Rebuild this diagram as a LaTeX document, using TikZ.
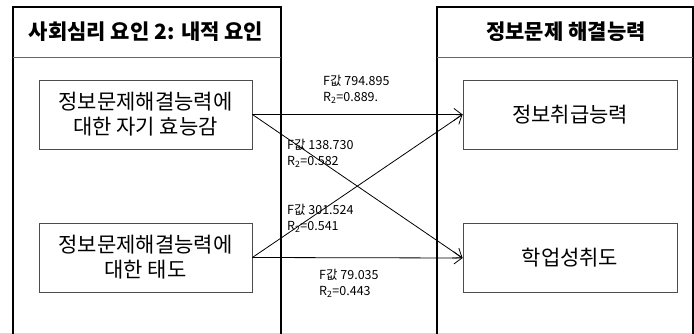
\documentclass[tikz,border=0pt]{standalone}
\usepackage{fontspec}
\setmainfont{Noto Sans CJK KR}
\usetikzlibrary{arrows.meta}

\begin{document}
\begin{tikzpicture}[
x=1pt, y=-1pt,
panel/.style={draw=black, line width=2.6pt},
divider/.style={draw=black!60, line width=0.8pt},
header/.style={inner sep=0pt, font=\fontsize{21}{25}\selectfont\bfseries},
factor/.style={rectangle, draw=black!70, line width=0.8pt, minimum width=213pt, minimum height=69pt, inner sep=0pt, align=center, font=\fontsize{21}{25}\selectfont},
outcome/.style={factor, minimum width=214pt},
stat/.style={anchor=west, align=left, inner sep=0pt, font=\fontsize{12.5}{16}\selectfont},
effect/.style={-{Straight Barb[length=8pt, width=12pt]}, line width=0.8pt},
]
\useasboundingbox (0,0) rectangle (694,334);
\draw[black!15] (0,333) -- (694,333);
\draw[panel] (13,334) |- (281,7) -- (281,334);
\draw[panel] (437,334) |- (693,7) -- (693,334);
\draw[divider] (13,57) -- (281,57);
\draw[divider] (437,57) -- (693,57);
\node[header] (hleft) at (146,32) {사회심리 요인 2: 내적 요인};
\node[header] (hright) at (566,32) {정보문제 해결능력};

\node[factor] (efficacy) at (145.5,114.5) {정보문제해결능력에\\대한 자기 효능감};
\node[factor] (attitude) at (145.5,257.5) {정보문제해결능력에\\대한 태도};
\node[outcome] (handling) at (570,114.5) {정보취급능력};
\node[outcome] (achieve) at (570,258) {학업성취도};

\draw[effect] (efficacy.east) -- (handling.west);
\draw[effect] (efficacy.east) -- (achieve.west);
\draw[effect] (attitude.east) -- (handling.west);
\draw[effect] (attitude.east) -- (achieve.west);

\node[stat] (s1) at (323,89) {F값 794.895\\R\textsubscript{2}=0.889.};
\node[stat] (s2) at (287,153) {F값 138.730\\R\textsubscript{2}=0.582};
\node[stat] (s3) at (287,218.5) {F값 301.524\\R\textsubscript{2}=0.541};
\node[stat] (s4) at (319,283.5) {F값 79.035\\R\textsubscript{2}=0.443};
\end{tikzpicture}
\end{document}
